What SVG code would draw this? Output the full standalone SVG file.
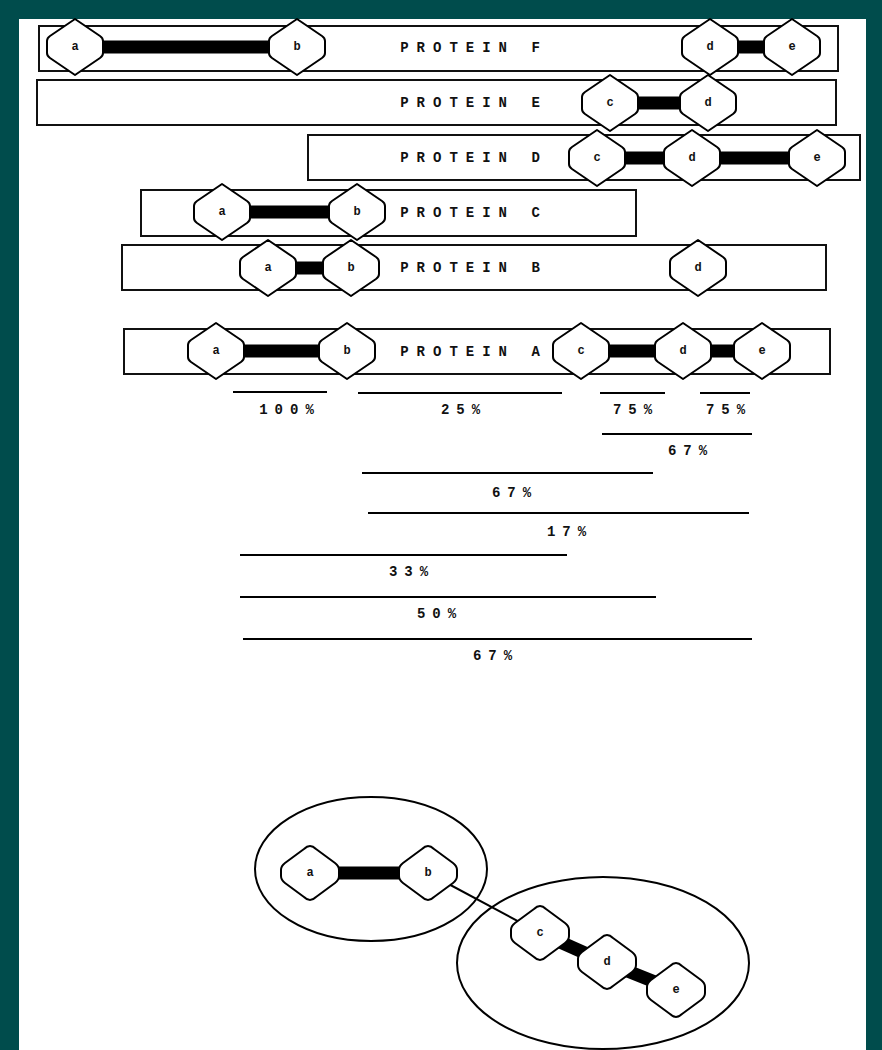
<svg xmlns="http://www.w3.org/2000/svg" xmlns:xlink="http://www.w3.org/1999/xlink" width="882" height="1050" viewBox="0 0 882 1050">
<style>
.bar{fill:#fff;stroke:#111;stroke-width:2}
.lbl{font-family:"Liberation Mono",monospace;font-size:14px;font-weight:bold;fill:#111;letter-spacing:8px;text-anchor:middle;dominant-baseline:central}
.nl{font-family:"Liberation Mono",monospace;font-size:12px;font-weight:bold;fill:#111;text-anchor:middle;dominant-baseline:central}
.pct{font-family:"Liberation Mono",monospace;font-size:14px;font-weight:bold;fill:#111;letter-spacing:7px;text-anchor:middle;dominant-baseline:central}
.thick{stroke:#000;stroke-width:13;fill:none}
.thin{stroke:#000;stroke-width:2;fill:none}
.hex{fill:#fff;stroke:#000;stroke-width:2;stroke-linejoin:round}
.ell{fill:none;stroke:#000;stroke-width:2}
</style>
<defs>
<path id="hex" class="hex" d="M0,-28 L25,-11 Q28,-9 28,-6 L28,6 Q28,9 25,11 L0,28 L-25,11 Q-28,9 -28,6 L-28,-6 Q-28,-9 -25,-11 Z"/>
<path id="hex2" class="hex" d="M0,-27 Q3,-27 6,-24 L25,-10 Q29,-7 29,-3 L29,3 Q29,7 25,10 L6,24 Q3,27 0,27 Q-3,27 -6,24 L-25,10 Q-29,7 -29,3 L-29,-3 Q-29,-7 -25,-10 L-6,-24 Q-3,-27 0,-27 Z"/>
</defs>
<rect x="0" y="0" width="882" height="1050" fill="#004c4c"/>
<rect x="19" y="19" width="847" height="1031" fill="#fff"/>

<g id="bars">
<g id="protein-f"><rect class="bar" x="39" y="26" width="799" height="45"/><text class="lbl" x="474" y="48">PROTEIN F</text></g>
<g id="protein-e"><rect class="bar" x="37" y="80" width="799" height="45"/><text class="lbl" x="474" y="103">PROTEIN E</text></g>
<g id="protein-d"><rect class="bar" x="308" y="135" width="552" height="45"/><text class="lbl" x="474" y="158">PROTEIN D</text></g>
<g id="protein-c"><rect class="bar" x="141" y="190" width="495" height="46"/><text class="lbl" x="474" y="213">PROTEIN C</text></g>
<g id="protein-b"><rect class="bar" x="122" y="245" width="704" height="45"/><text class="lbl" x="474" y="268">PROTEIN B</text></g>
<g id="protein-a"><rect class="bar" x="124" y="329" width="706" height="45"/><text class="lbl" x="474" y="352">PROTEIN A</text></g>
</g>

<g id="connectors">
<line class="thick" x1="75" y1="47" x2="297" y2="47"/>
<line class="thick" x1="710" y1="47" x2="792" y2="47"/>
<line class="thick" x1="610" y1="103" x2="708" y2="103"/>
<line class="thick" x1="597" y1="158" x2="817" y2="158"/>
<line class="thick" x1="222" y1="212" x2="357" y2="212"/>
<line class="thick" x1="268" y1="268" x2="351" y2="268"/>
<line class="thick" x1="216" y1="351" x2="347" y2="351"/>
<line class="thick" x1="581" y1="351" x2="762" y2="351"/>
<line class="thick" x1="310" y1="873" x2="428" y2="873"/>
<line class="thin" x1="428" y1="873" x2="540" y2="933"/>
<line class="thick" x1="540" y1="933" x2="605" y2="962"/>
<line class="thick" x1="605" y1="962" x2="675" y2="990"/>
</g>

<g id="nodes-f">
<g id="f-a"><use xlink:href="#hex" x="75" y="47"/><text class="nl" x="75" y="47">a</text></g>
<g id="f-b"><use xlink:href="#hex" x="297" y="47"/><text class="nl" x="297" y="47">b</text></g>
<g id="f-d"><use xlink:href="#hex" x="710" y="47"/><text class="nl" x="710" y="47">d</text></g>
<g id="f-e"><use xlink:href="#hex" x="792" y="47"/><text class="nl" x="792" y="47">e</text></g>
</g>
<g id="nodes-e">
<g id="e-c"><use xlink:href="#hex" x="610" y="103"/><text class="nl" x="610" y="103">c</text></g>
<g id="e-d"><use xlink:href="#hex" x="708" y="103"/><text class="nl" x="708" y="103">d</text></g>
</g>
<g id="nodes-d">
<g id="d-c"><use xlink:href="#hex" x="597" y="158"/><text class="nl" x="597" y="158">c</text></g>
<g id="d-d"><use xlink:href="#hex" x="692" y="158"/><text class="nl" x="692" y="158">d</text></g>
<g id="d-e"><use xlink:href="#hex" x="817" y="158"/><text class="nl" x="817" y="158">e</text></g>
</g>
<g id="nodes-c">
<g id="c-a"><use xlink:href="#hex" x="222" y="212"/><text class="nl" x="222" y="212">a</text></g>
<g id="c-b"><use xlink:href="#hex" x="357" y="212"/><text class="nl" x="357" y="212">b</text></g>
</g>
<g id="nodes-b">
<g id="b-a"><use xlink:href="#hex" x="268" y="268"/><text class="nl" x="268" y="268">a</text></g>
<g id="b-b"><use xlink:href="#hex" x="351" y="268"/><text class="nl" x="351" y="268">b</text></g>
<g id="b-d"><use xlink:href="#hex" x="698" y="268"/><text class="nl" x="698" y="268">d</text></g>
</g>
<g id="nodes-a">
<g id="a-a"><use xlink:href="#hex" x="216" y="351"/><text class="nl" x="216" y="351">a</text></g>
<g id="a-b"><use xlink:href="#hex" x="347" y="351"/><text class="nl" x="347" y="351">b</text></g>
<g id="a-c"><use xlink:href="#hex" x="581" y="351"/><text class="nl" x="581" y="351">c</text></g>
<g id="a-d"><use xlink:href="#hex" x="683" y="351"/><text class="nl" x="683" y="351">d</text></g>
<g id="a-e"><use xlink:href="#hex" x="762" y="351"/><text class="nl" x="762" y="351">e</text></g>
</g>

<g id="percentages">
<line class="thin" x1="233" y1="392" x2="327" y2="392"/><text class="pct" x="290" y="410">100%</text>
<line class="thin" x1="358" y1="393" x2="562" y2="393"/><text class="pct" x="464" y="410">25%</text>
<line class="thin" x1="600" y1="393" x2="665" y2="393"/><text class="pct" x="636" y="410">75%</text>
<line class="thin" x1="700" y1="393" x2="750" y2="393"/><text class="pct" x="729" y="410">75%</text>
<line class="thin" x1="602" y1="434" x2="752" y2="434" stroke-width="3"/><text class="pct" x="691" y="451">67%</text>
<line class="thin" x1="362" y1="473" x2="653" y2="473"/><text class="pct" x="515" y="493">67%</text>
<line class="thin" x1="368" y1="513" x2="749" y2="513"/><text class="pct" x="570" y="532">17%</text>
<line class="thin" x1="240" y1="555" x2="567" y2="555"/><text class="pct" x="412" y="572">33%</text>
<line class="thin" x1="240" y1="597" x2="656" y2="597"/><text class="pct" x="440" y="614">50%</text>
<line class="thin" x1="243" y1="639" x2="752" y2="639"/><text class="pct" x="496" y="656">67%</text>
</g>

<g id="groups">
<ellipse class="ell" cx="371" cy="869" rx="116" ry="72"/>
<ellipse class="ell" cx="603" cy="963" rx="146" ry="86"/>
</g>

<g id="bottom-nodes">
<g id="g-a"><use xlink:href="#hex2" x="310" y="873"/><text class="nl" x="310" y="873">a</text></g>
<g id="g-b"><use xlink:href="#hex2" x="428" y="873"/><text class="nl" x="428" y="873">b</text></g>
<g id="g-c"><use xlink:href="#hex2" x="540" y="933"/><text class="nl" x="540" y="933">c</text></g>
<g id="g-d"><use xlink:href="#hex2" x="607" y="962"/><text class="nl" x="607" y="962">d</text></g>
<g id="g-e"><use xlink:href="#hex2" x="676" y="990"/><text class="nl" x="676" y="990">e</text></g>
</g>
</svg>
